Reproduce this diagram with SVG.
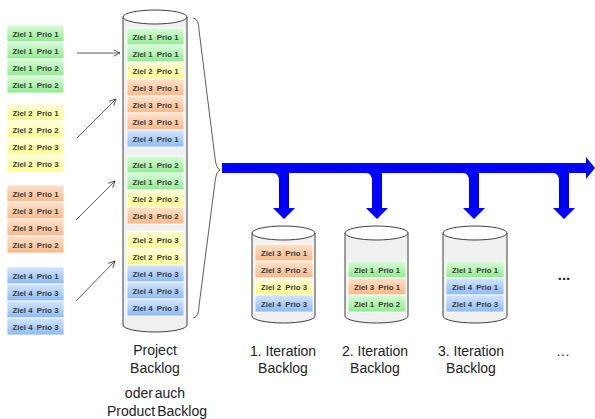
<svg xmlns="http://www.w3.org/2000/svg" width="595" height="419" viewBox="0 0 595 419">
<defs>
<linearGradient id="gG" x1="0" y1="0" x2="0" y2="1"><stop offset="0" stop-color="#dafcda"/><stop offset="1" stop-color="#8eea8e"/></linearGradient>
<linearGradient id="gY" x1="0" y1="0" x2="0" y2="1"><stop offset="0" stop-color="#ffffdc"/><stop offset="1" stop-color="#ffff8c"/></linearGradient>
<linearGradient id="gO" x1="0" y1="0" x2="0" y2="1"><stop offset="0" stop-color="#fde2cc"/><stop offset="1" stop-color="#f8b888"/></linearGradient>
<linearGradient id="gB" x1="0" y1="0" x2="0" y2="1"><stop offset="0" stop-color="#d4e6fb"/><stop offset="1" stop-color="#8cbaf2"/></linearGradient>
<marker id="ah" viewBox="0 0 10 10" refX="9" refY="5" markerWidth="8" markerHeight="8" orient="auto" markerUnits="userSpaceOnUse"><path d="M1,1 L9,5 L1,9" fill="none" stroke="#333" stroke-width="1"/></marker>
</defs>
<style>
.g{fill:url(#gG)}.y{fill:url(#gY)}.o{fill:url(#gO)}.b{fill:url(#gB)}
.it rect{stroke:#ffffff;stroke-width:0.8}
.it text{font-family:"Liberation Sans",Arial,sans-serif;font-size:7.8px;font-weight:bold;fill:#383838;text-anchor:middle;white-space:pre}
.cyl{fill:#f0f0f0;stroke:#404040;stroke-width:1}
.top{fill:#ffffff;stroke:#404040;stroke-width:1}
.lbl{font-family:"Liberation Sans",Arial,sans-serif;font-size:14px;fill:#222;text-anchor:middle}
.thin{stroke:#333;stroke-width:0.8;fill:none;marker-end:url(#ah)}
.blue{fill:#0000ff}
</style>
<rect width="595" height="419" fill="#ffffff"/>

<!-- left item stacks -->
<g id="stack-ziel1" class="it">
<rect class="g" x="7" y="25" width="57" height="17"/><text x="35.5" y="36.5">Ziel 1  Prio 1</text>
<rect class="g" x="7" y="42" width="57" height="17"/><text x="35.5" y="53.5">Ziel 1  Prio 1</text>
<rect class="g" x="7" y="59" width="57" height="17"/><text x="35.5" y="70.5">Ziel 1  Prio 2</text>
<rect class="g" x="7" y="76" width="57" height="17"/><text x="35.5" y="87.5">Ziel 1  Prio 2</text>
</g>
<g id="stack-ziel2" class="it">
<rect class="y" x="7" y="104" width="57" height="17"/><text x="35.5" y="115.5">Ziel 2  Prio 1</text>
<rect class="y" x="7" y="121" width="57" height="17"/><text x="35.5" y="132.5">Ziel 2  Prio 2</text>
<rect class="y" x="7" y="138" width="57" height="17"/><text x="35.5" y="149.5">Ziel 2  Prio 3</text>
<rect class="y" x="7" y="155" width="57" height="17"/><text x="35.5" y="166.5">Ziel 2  Prio 3</text>
</g>
<g id="stack-ziel3" class="it">
<rect class="o" x="7" y="185" width="57" height="17"/><text x="35.5" y="196.5">Ziel 3  Prio 1</text>
<rect class="o" x="7" y="202" width="57" height="17"/><text x="35.5" y="213.5">Ziel 3  Prio 1</text>
<rect class="o" x="7" y="219" width="57" height="17"/><text x="35.5" y="230.5">Ziel 3  Prio 1</text>
<rect class="o" x="7" y="236" width="57" height="17"/><text x="35.5" y="247.5">Ziel 3  Prio 2</text>
</g>
<g id="stack-ziel4" class="it">
<rect class="b" x="7" y="267" width="57" height="17"/><text x="35.5" y="278.5">Ziel 4  Prio 1</text>
<rect class="b" x="7" y="284" width="57" height="17"/><text x="35.5" y="295.5">Ziel 4  Prio 3</text>
<rect class="b" x="7" y="301" width="57" height="17"/><text x="35.5" y="312.5">Ziel 4  Prio 3</text>
<rect class="b" x="7" y="318" width="57" height="17"/><text x="35.5" y="329.5">Ziel 4  Prio 3</text>
</g>

<!-- project backlog cylinder -->
<g id="project-backlog">
<path class="cyl" d="M123,17 L123,325 A32,7 0 0 0 187,325 L187,17 Z"/>
<ellipse class="top" cx="155" cy="17" rx="32" ry="7"/>
<g class="it">
<rect class="g" x="127" y="28" width="57" height="17"/><text x="155.5" y="39.5">Ziel 1  Prio 1</text>
<rect class="g" x="127" y="45" width="57" height="17"/><text x="155.5" y="56.5">Ziel 1  Prio 1</text>
<rect class="y" x="127" y="62" width="57" height="17"/><text x="155.5" y="73.5">Ziel 2  Prio 1</text>
<rect class="o" x="127" y="79" width="57" height="17"/><text x="155.5" y="90.5">Ziel 3  Prio 1</text>
<rect class="o" x="127" y="96" width="57" height="17"/><text x="155.5" y="107.5">Ziel 3  Prio 1</text>
<rect class="o" x="127" y="113" width="57" height="17"/><text x="155.5" y="124.5">Ziel 3  Prio 1</text>
<rect class="b" x="127" y="130" width="57" height="17"/><text x="155.5" y="141.5">Ziel 4  Prio 1</text>
<rect class="g" x="127" y="156" width="57" height="17"/><text x="155.5" y="167.5">Ziel 1  Prio 2</text>
<rect class="g" x="127" y="173" width="57" height="17"/><text x="155.5" y="184.5">Ziel 1  Prio 2</text>
<rect class="y" x="127" y="190" width="57" height="17"/><text x="155.5" y="201.5">Ziel 2  Prio 2</text>
<rect class="o" x="127" y="207" width="57" height="17"/><text x="155.5" y="218.5">Ziel 3  Prio 2</text>
<rect class="y" x="127" y="231" width="57" height="17"/><text x="155.5" y="242.5">Ziel 2  Prio 3</text>
<rect class="y" x="127" y="248" width="57" height="17"/><text x="155.5" y="259.5">Ziel 2  Prio 3</text>
<rect class="b" x="127" y="265" width="57" height="17"/><text x="155.5" y="276.5">Ziel 4  Prio 3</text>
<rect class="b" x="127" y="282" width="57" height="17"/><text x="155.5" y="293.5">Ziel 4  Prio 3</text>
<rect class="b" x="127" y="299" width="57" height="17"/><text x="155.5" y="310.5">Ziel 4  Prio 3</text>
</g>
<text class="lbl" x="155" y="355">Project</text>
<text class="lbl" x="155" y="373">Backlog</text>
<text class="lbl" x="155" y="398" word-spacing="-2">oder auch</text>
<text class="lbl" x="157" y="416" word-spacing="-2">Product Backlog</text>
</g>

<!-- iteration backlogs -->
<g id="iteration-1">
<path class="cyl" d="M252,233 L252,316 A31.5,7 0 0 0 315,316 L315,233 Z"/>
<ellipse class="top" cx="283.5" cy="233" rx="31.5" ry="7"/>
<g class="it">
<rect class="o" x="255" y="244" width="58" height="17"/><text x="284" y="255.5">Ziel 3  Prio 1</text>
<rect class="o" x="255" y="261" width="58" height="17"/><text x="284" y="272.5">Ziel 3  Prio 2</text>
<rect class="y" x="255" y="278" width="58" height="17"/><text x="284" y="289.5">Ziel 2  Prio 3</text>
<rect class="b" x="255" y="295" width="58" height="17"/><text x="284" y="306.5">Ziel 4  Prio 3</text>
</g>
<text class="lbl" x="283" y="356">1. Iteration</text>
<text class="lbl" x="283" y="373">Backlog</text>
</g>
<g id="iteration-2">
<path class="cyl" d="M345,233 L345,316 A31.5,7 0 0 0 408,316 L408,233 Z"/>
<ellipse class="top" cx="376.5" cy="233" rx="31.5" ry="7"/>
<g class="it">
<rect class="g" x="348" y="261" width="58" height="17"/><text x="377" y="272.5">Ziel 1  Prio 1</text>
<rect class="o" x="348" y="278" width="58" height="17"/><text x="377" y="289.5">Ziel 3  Prio 1</text>
<rect class="g" x="348" y="295" width="58" height="17"/><text x="377" y="306.5">Ziel 1  Prio 2</text>
</g>
<text class="lbl" x="375" y="356">2. Iteration</text>
<text class="lbl" x="375" y="373">Backlog</text>
</g>
<g id="iteration-3">
<path class="cyl" d="M443,233 L443,316 A32,7 0 0 0 507,316 L507,233 Z"/>
<ellipse class="top" cx="475" cy="233" rx="32" ry="7"/>
<g class="it">
<rect class="g" x="446" y="261" width="58" height="17"/><text x="475" y="272.5">Ziel 1  Prio 1</text>
<rect class="b" x="446" y="278" width="58" height="17"/><text x="475" y="289.5">Ziel 4  Prio 1</text>
<rect class="b" x="446" y="295" width="58" height="17"/><text x="475" y="306.5">Ziel 4  Prio 3</text>
</g>
<text class="lbl" x="471" y="356">3. Iteration</text>
<text class="lbl" x="471" y="373">Backlog</text>
</g>
<g id="more">
<text x="564" y="280" font-family="Liberation Sans,Arial,sans-serif" font-size="15" font-weight="bold" fill="#222" text-anchor="middle">...</text>
<text class="lbl" x="563" y="356" fill="#555">…</text>
</g>

<!-- connectors -->
<g id="connectors">
<line class="thin" x1="77" y1="53" x2="120" y2="53"/>
<line class="thin" x1="77" y1="138" x2="116" y2="99"/>
<line class="thin" x1="76" y1="220" x2="115" y2="181"/>
<line class="thin" x1="76" y1="301" x2="115" y2="261"/>
<path d="M193,18 Q199,19 199,30 L215,158 Q216,168 220,170 Q216,172 215,182 L199,306 Q199,317 193,318" fill="none" stroke="#333" stroke-width="0.8"/>
<rect class="blue" x="222" y="163" width="365" height="10"/>
<polygon class="blue" points="586,157 595,168 586,179"/>
<path class="blue" d="M273,173 Q279,173 279,181 L279,208 L273,208 L284,219 L295,208 L289,208 L289,173 Z"/>
<path class="blue" d="M366,173 Q372,173 372,181 L372,208 L366,208 L377,219 L388,208 L382,208 L382,173 Z"/>
<path class="blue" d="M463,173 Q469,173 469,181 L469,208 L463,208 L474,219 L485,208 L479,208 L479,173 Z"/>
<path class="blue" d="M553,173 Q559,173 559,181 L559,208 L553,208 L564,219 L575,208 L569,208 L569,173 Z"/>
</g>
</svg>
